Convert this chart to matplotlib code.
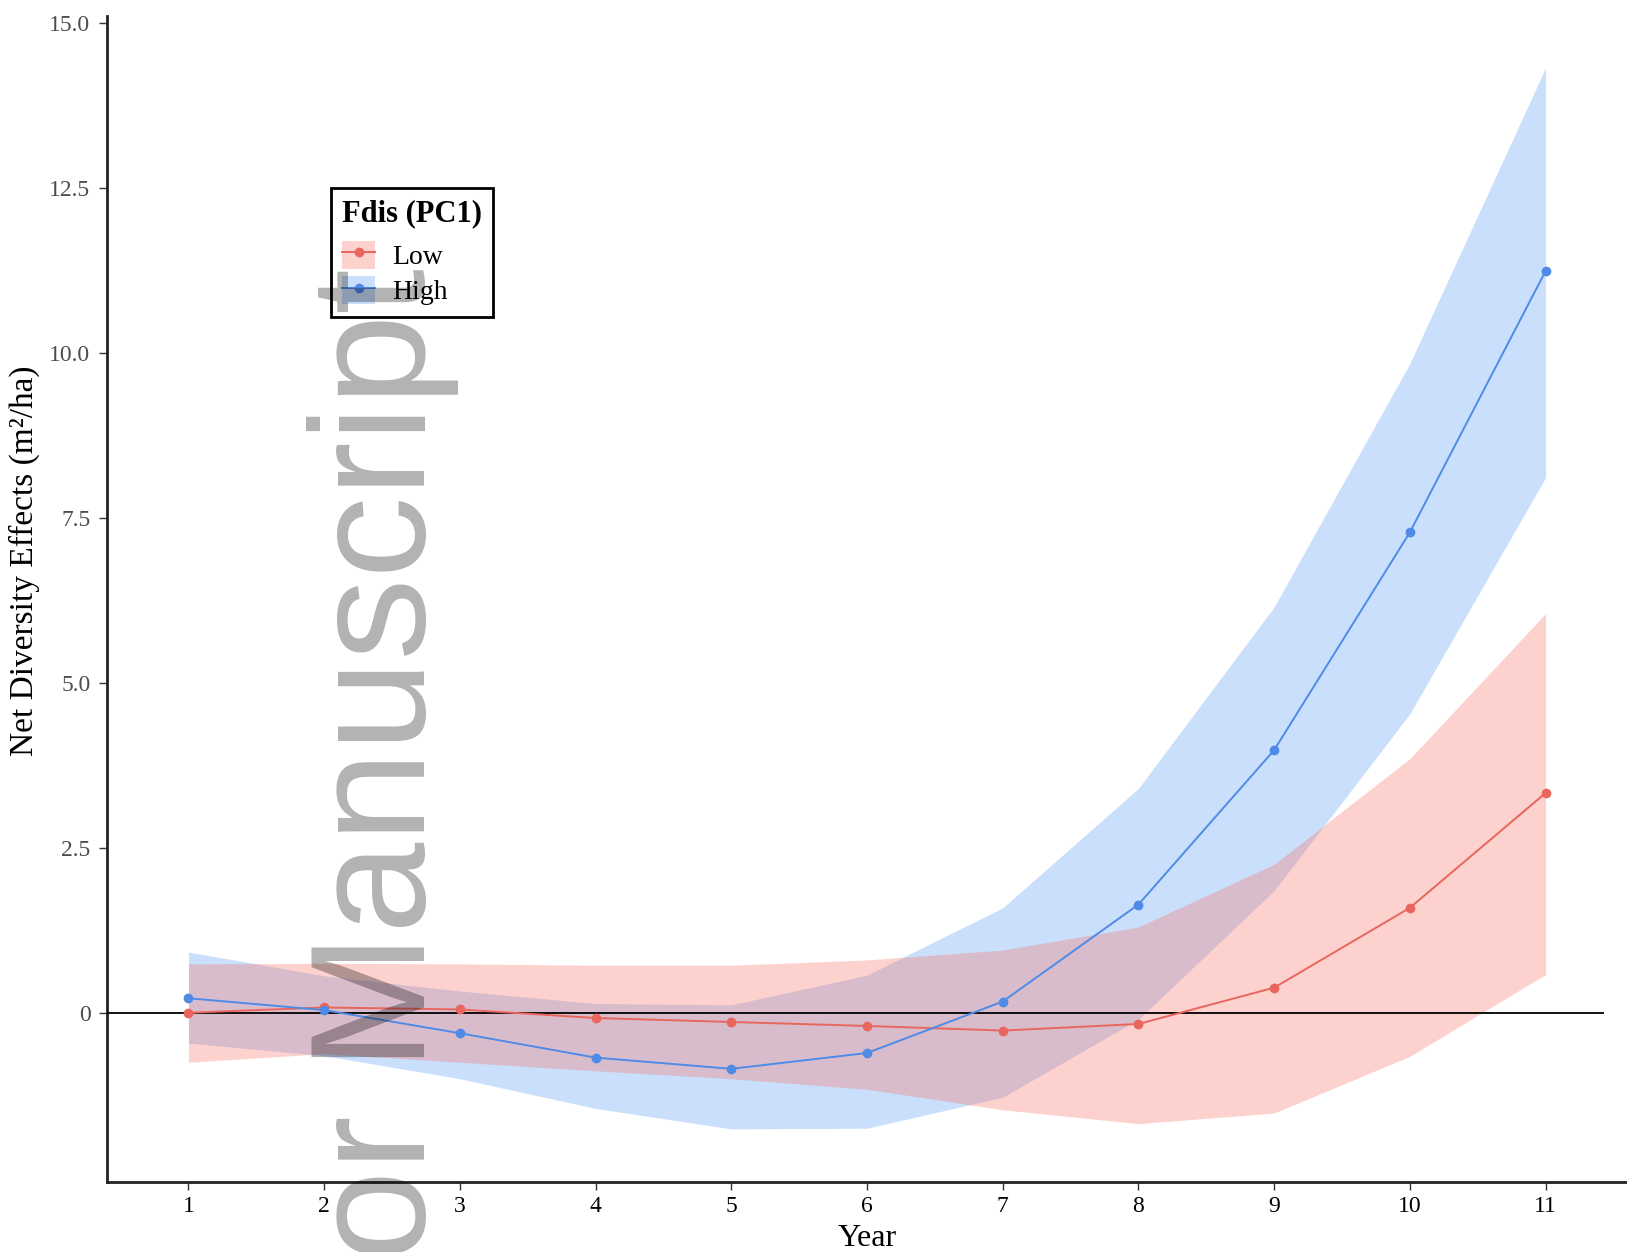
import matplotlib
matplotlib.use("Agg")
import matplotlib.pyplot as plt
from matplotlib.patches import Patch
from matplotlib.lines import Line2D

years = [1, 2, 3, 4, 5, 6, 7, 8, 9, 10, 11]

# Fdis (PC1) = Low
low_fit = [0.0, 0.08, 0.05, -0.08, -0.14, -0.20, -0.27, -0.17, 0.38, 1.59, 3.33]
low_upper = [0.74, 0.75, 0.74, 0.72, 0.72, 0.80, 0.95, 1.30, 2.25, 3.85, 6.05]
low_lower = [-0.75, -0.62, -0.75, -0.88, -1.00, -1.16, -1.47, -1.68, -1.52, -0.66, 0.58]

# Fdis (PC1) = High
high_fit = [0.22, 0.04, -0.31, -0.68, -0.85, -0.61, 0.17, 1.64, 3.98, 7.28, 11.24]
high_upper = [0.92, 0.56, 0.33, 0.14, 0.12, 0.57, 1.59, 3.40, 6.15, 9.84, 14.32]
high_lower = [-0.46, -0.65, -1.00, -1.45, -1.76, -1.75, -1.28, -0.10, 1.85, 4.53, 8.11]

y_ticks = [0, 2.5, 5.0, 7.5, 10.0, 12.5, 15.0]
y_ticklabels = ["0", "2.5", "5.0", "7.5", "10.0", "12.5", "15.0"]

RED_LINE = "#E8665E"
BLUE_LINE = "#4F8BE6"
RED_FILL = "#F8766D"
BLUE_FILL = "#6EA8F5"

plt.rcParams.update({
    "font.family": ["Liberation Serif", "DejaVu Serif"],
    "font.size": 16,
})

fig = plt.figure(figsize=(16.27, 12.52), dpi=100)
ax = fig.add_axes([0.0658, 0.0559, 0.9342, 0.9316])

ax.fill_between(years, high_lower, high_upper, color=BLUE_FILL, alpha=0.36,
                linewidth=0, zorder=1)
ax.fill_between(years, low_lower, low_upper, color=RED_FILL, alpha=0.33,
                linewidth=0, zorder=2)

ax.axhline(0, xmin=0, xmax=(11.42 - 0.4) / 11.2, color="black", linewidth=1.3, zorder=3)

ax.plot(years, low_fit, color=RED_LINE, linewidth=1.4, marker="o", markersize=6, zorder=4)
ax.plot(years, high_fit, color=BLUE_LINE, linewidth=1.4, marker="o", markersize=6, zorder=4)

ax.set_xlim(0.4, 11.6)
ax.set_ylim(-2.565, 15.11)
ax.set_xticks(years)
ax.set_xticklabels([str(y) for y in years], fontsize=17, color="black")
ax.set_yticks(y_ticks)
ax.set_yticklabels(y_ticklabels, fontsize=17, color="#4D4D4D")
ax.tick_params(axis="both", length=6, width=1, color="#333333")
ax.tick_params(axis="x", pad=4)
ax.tick_params(axis="y", pad=6)

for side in ["top", "right"]:
    ax.spines[side].set_visible(False)
for side in ["left", "bottom"]:
    ax.spines[side].set_linewidth(2.0)
    ax.spines[side].set_color("#222222")

ax.set_xlabel("Year", fontsize=23, labelpad=5)
ax.set_ylabel("Net Diversity Effects (m²/ha)", fontsize=24)
ax.yaxis.set_label_coords(-0.044, 0.533)

handles = [
    (Patch(facecolor=RED_FILL, alpha=0.33, edgecolor="none"),
     Line2D([], [], color=RED_LINE, linewidth=1.4, marker="o", markersize=6)),
    (Patch(facecolor=BLUE_FILL, alpha=0.36, edgecolor="none"),
     Line2D([], [], color=BLUE_LINE, linewidth=1.4, marker="o", markersize=6)),
]
leg = ax.legend(handles, ["Low", "High"], title="Fdis (PC1)",
                loc="upper left", bbox_to_anchor=(331 / 1627, 1 - 188 / 1252),
                bbox_transform=fig.transFigure, borderaxespad=0,
                fontsize=20, title_fontsize=22,
                frameon=True, fancybox=False, edgecolor="black", framealpha=1,
                borderpad=0.4, handlelength=1.2, handleheight=1.2,
                handletextpad=0.6, labelspacing=0.2, alignment="left")
leg.get_title().set_fontweight("bold")
leg.get_frame().set_linewidth(2.0)
leg._legend_box.sep = 9  # a bit more room under the title

# watermark as in the source page
fig.text(425 / 1627, 1 - 268 / 1252, "Author Manuscript", rotation=90,
         rotation_mode="anchor", ha="right", va="baseline",
         fontsize=118, family="Liberation Sans", color="black", alpha=0.3,
         zorder=10)

fig.savefig("out.png", dpi=100)
